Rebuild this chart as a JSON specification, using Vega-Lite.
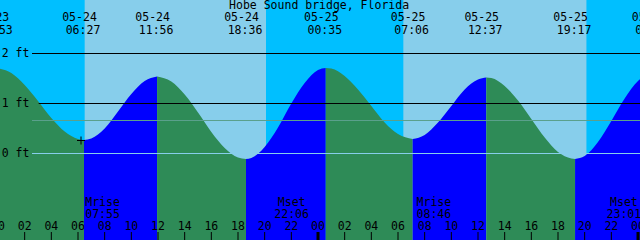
{
  "$schema": "https://vega.github.io/schema/vega-lite/v6.json",
  "width": 640,
  "height": 240,
  "padding": 0,
  "autosize": {"type": "none"},
  "background": "#00bfff",
  "config": {"view": {"stroke": null}, "font": "DejaVu Sans Mono", "text": {"font": "DejaVu Sans Mono", "fontSize": 11.5}},
  "datasets": {
    "sky": [
      {"start": -1, "end": 6.5, "light": "night"},
      {"start": 6.5, "end": 20.1, "light": "day"},
      {"start": 20.1, "end": 30.4, "light": "night"},
      {"start": 30.4, "end": 44.15, "light": "day"},
      {"start": 44.15, "end": 50, "light": "night"}
    ],
    "tide": [
      {"seg": "A", "phase": "ebb", "h": -0.12, "ft": 1.71},
      {"seg": "A", "phase": "ebb", "h": 1, "ft": 1.61},
      {"seg": "A", "phase": "ebb", "h": 2, "ft": 1.37},
      {"seg": "A", "phase": "ebb", "h": 3, "ft": 1.05},
      {"seg": "A", "phase": "ebb", "h": 4, "ft": 0.71},
      {"seg": "A", "phase": "ebb", "h": 5, "ft": 0.44},
      {"seg": "A", "phase": "ebb", "h": 6, "ft": 0.29},
      {"seg": "A", "phase": "ebb", "h": 6.45, "ft": 0.27},
      {"seg": "B", "phase": "flood", "h": 6.45, "ft": 0.27},
      {"seg": "B", "phase": "flood", "h": 7, "ft": 0.30},
      {"seg": "B", "phase": "flood", "h": 8, "ft": 0.50},
      {"seg": "B", "phase": "flood", "h": 9, "ft": 0.84},
      {"seg": "B", "phase": "flood", "h": 10, "ft": 1.19},
      {"seg": "B", "phase": "flood", "h": 11, "ft": 1.45},
      {"seg": "B", "phase": "flood", "h": 11.93, "ft": 1.54},
      {"seg": "C", "phase": "ebb", "h": 11.93, "ft": 1.54},
      {"seg": "C", "phase": "ebb", "h": 13, "ft": 1.44},
      {"seg": "C", "phase": "ebb", "h": 14, "ft": 1.18},
      {"seg": "C", "phase": "ebb", "h": 15, "ft": 0.82},
      {"seg": "C", "phase": "ebb", "h": 16, "ft": 0.43},
      {"seg": "C", "phase": "ebb", "h": 17, "ft": 0.11},
      {"seg": "C", "phase": "ebb", "h": 18, "ft": -0.08},
      {"seg": "C", "phase": "ebb", "h": 18.6, "ft": -0.11},
      {"seg": "D", "phase": "flood", "h": 18.6, "ft": -0.11},
      {"seg": "D", "phase": "flood", "h": 19, "ft": -0.09},
      {"seg": "D", "phase": "flood", "h": 20, "ft": 0.13},
      {"seg": "D", "phase": "flood", "h": 21, "ft": 0.52},
      {"seg": "D", "phase": "flood", "h": 22, "ft": 1.00},
      {"seg": "D", "phase": "flood", "h": 23, "ft": 1.41},
      {"seg": "D", "phase": "flood", "h": 24, "ft": 1.67},
      {"seg": "D", "phase": "flood", "h": 24.58, "ft": 1.71},
      {"seg": "E", "phase": "ebb", "h": 24.58, "ft": 1.71},
      {"seg": "E", "phase": "ebb", "h": 25, "ft": 1.70},
      {"seg": "E", "phase": "ebb", "h": 26, "ft": 1.55},
      {"seg": "E", "phase": "ebb", "h": 27, "ft": 1.28},
      {"seg": "E", "phase": "ebb", "h": 28, "ft": 0.95},
      {"seg": "E", "phase": "ebb", "h": 29, "ft": 0.62},
      {"seg": "E", "phase": "ebb", "h": 30, "ft": 0.39},
      {"seg": "E", "phase": "ebb", "h": 31.1, "ft": 0.29},
      {"seg": "F", "phase": "flood", "h": 31.1, "ft": 0.29},
      {"seg": "F", "phase": "flood", "h": 32, "ft": 0.37},
      {"seg": "F", "phase": "flood", "h": 33, "ft": 0.62},
      {"seg": "F", "phase": "flood", "h": 34, "ft": 0.95},
      {"seg": "F", "phase": "flood", "h": 35, "ft": 1.28},
      {"seg": "F", "phase": "flood", "h": 36, "ft": 1.48},
      {"seg": "F", "phase": "flood", "h": 36.62, "ft": 1.52},
      {"seg": "G", "phase": "ebb", "h": 36.62, "ft": 1.52},
      {"seg": "G", "phase": "ebb", "h": 37, "ft": 1.51},
      {"seg": "G", "phase": "ebb", "h": 38, "ft": 1.35},
      {"seg": "G", "phase": "ebb", "h": 39, "ft": 1.06},
      {"seg": "G", "phase": "ebb", "h": 40, "ft": 0.69},
      {"seg": "G", "phase": "ebb", "h": 41, "ft": 0.32},
      {"seg": "G", "phase": "ebb", "h": 42, "ft": 0.03},
      {"seg": "G", "phase": "ebb", "h": 43, "ft": -0.10},
      {"seg": "G", "phase": "ebb", "h": 43.28, "ft": -0.11},
      {"seg": "H", "phase": "flood", "h": 43.28, "ft": -0.11},
      {"seg": "H", "phase": "flood", "h": 44, "ft": -0.05},
      {"seg": "H", "phase": "flood", "h": 45, "ft": 0.23},
      {"seg": "H", "phase": "flood", "h": 46, "ft": 0.65},
      {"seg": "H", "phase": "flood", "h": 47, "ft": 1.10},
      {"seg": "H", "phase": "flood", "h": 48, "ft": 1.45},
      {"seg": "H", "phase": "flood", "h": 48.5, "ft": 1.55}
    ],
    "levels": [
      {"level": 2, "label": "2 ft", "start": 2.55, "kind": "ft"},
      {"level": 1, "label": "1 ft", "start": 3.05, "kind": "ft"},
      {"level": 0, "label": "0 ft", "start": 2.55, "kind": "datum"},
      {"level": 0.66, "label": "", "start": 2.55, "kind": "mean"}
    ],
    "extremes": [
      {"h": -0.117, "date": "05-23", "time": "23:53"},
      {"h": 6.45, "date": "05-24", "time": "06:27"},
      {"h": 11.933, "date": "05-24", "time": "11:56"},
      {"h": 18.6, "date": "05-24", "time": "18:36"},
      {"h": 24.583, "date": "05-25", "time": "00:35"},
      {"h": 31.1, "date": "05-25", "time": "07:06"},
      {"h": 36.617, "date": "05-25", "time": "12:37"},
      {"h": 43.283, "date": "05-25", "time": "19:17"},
      {"h": 49.17, "date": "05-26", "time": "01:10"}
    ],
    "moon": [
      {"h": 7.917, "event": "Mrise", "time": "07:55"},
      {"h": 22.1, "event": "Mset", "time": "22:06"},
      {"h": 32.767, "event": "Mrise", "time": "08:46"},
      {"h": 47.017, "event": "Mset", "time": "23:01"}
    ],
    "hours": [
      {"h": 0, "hh": "00"}, {"h": 2, "hh": "02"}, {"h": 4, "hh": "04"}, {"h": 6, "hh": "06"},
      {"h": 8, "hh": "08"}, {"h": 10, "hh": "10"}, {"h": 12, "hh": "12"}, {"h": 14, "hh": "14"},
      {"h": 16, "hh": "16"}, {"h": 18, "hh": "18"}, {"h": 20, "hh": "20"}, {"h": 22, "hh": "22"},
      {"h": 24, "hh": "00"}, {"h": 26, "hh": "02"}, {"h": 28, "hh": "04"}, {"h": 30, "hh": "06"},
      {"h": 32, "hh": "08"}, {"h": 34, "hh": "10"}, {"h": 36, "hh": "12"}, {"h": 38, "hh": "14"},
      {"h": 40, "hh": "16"}, {"h": 42, "hh": "18"}, {"h": 44, "hh": "20"}, {"h": 46, "hh": "22"},
      {"h": 48, "hh": "00"}
    ],
    "now": [{"h": 6.225, "ft": 0.26}],
    "title": [{"text": "Hobe Sound bridge, Florida"}]
  },
  "layer": [
    {
      "data": {"name": "sky"},
      "mark": {"type": "rect", "clip": true},
      "encoding": {
        "x": {"field": "start", "type": "quantitative", "scale": {"domain": [0.15, 48.15], "nice": false, "zero": false}, "axis": null},
        "x2": {"field": "end"},
        "color": {"field": "light", "type": "nominal", "scale": {"domain": ["night", "day"], "range": ["#00bfff", "#87ceeb"]}, "legend": null}
      }
    },
    {
      "data": {"name": "tide"},
      "mark": {"type": "area", "interpolate": "monotone", "clip": true, "opacity": 1},
      "encoding": {
        "x": {"field": "h", "type": "quantitative", "scale": {"domain": [0.15, 48.15], "nice": false, "zero": false}, "axis": null},
        "y": {"field": "ft", "type": "quantitative", "scale": {"domain": [-1.73, 3.07], "nice": false, "zero": false}, "axis": null},
        "y2": {"datum": -1.8},
        "color": {"field": "phase", "type": "nominal", "scale": {"domain": ["ebb", "flood"], "range": ["#2e8b57", "#0000ff"]}, "legend": null},
        "detail": {"field": "seg", "type": "nominal"}
      }
    },
    {
      "data": {"name": "levels"},
      "mark": {"type": "rule", "strokeWidth": 1, "clip": true},
      "encoding": {
        "x": {"field": "start", "type": "quantitative"},
        "x2": {"datum": 49},
        "y": {"field": "level", "type": "quantitative"},
        "color": {"field": "kind", "type": "nominal", "scale": {"domain": ["ft", "datum", "mean"], "range": ["#000000", "#87ceeb", "#5aa08c"]}, "legend": null}
      }
    },
    {
      "data": {"name": "levels"},
      "transform": [{"filter": "datum.label != ''"}],
      "mark": {"type": "text", "align": "left", "baseline": "alphabetic", "dy": 3.5, "fill": "#000000"},
      "encoding": {
        "x": {"datum": 0.28},
        "y": {"field": "level", "type": "quantitative"},
        "text": {"field": "label"}
      }
    },
    {
      "data": {"name": "hours"},
      "transform": [{"filter": "datum.h % 24 != 0"}],
      "mark": {"type": "rule", "strokeWidth": 1, "color": "#000000", "clip": true},
      "encoding": {
        "x": {"field": "h", "type": "quantitative"},
        "y": {"datum": -1.57},
        "y2": {"datum": -1.9}
      }
    },
    {
      "data": {"name": "hours"},
      "transform": [{"filter": "datum.h % 24 == 0"}],
      "mark": {"type": "rule", "strokeWidth": 3, "color": "#000000", "clip": true},
      "encoding": {
        "x": {"field": "h", "type": "quantitative"},
        "y": {"datum": -1.57},
        "y2": {"datum": -1.9}
      }
    },
    {
      "data": {"name": "hours"},
      "mark": {"type": "text", "align": "center", "baseline": "alphabetic", "fill": "#000000", "clip": true},
      "encoding": {
        "x": {"field": "h", "type": "quantitative"},
        "y": {"datum": -1.53},
        "text": {"field": "hh"}
      }
    },
    {
      "data": {"name": "extremes"},
      "mark": {"type": "text", "align": "center", "baseline": "alphabetic", "dx": -4.5, "fill": "#000000", "clip": true},
      "encoding": {
        "x": {"field": "h", "type": "quantitative"},
        "y": {"datum": 2.655},
        "text": {"field": "date"}
      }
    },
    {
      "data": {"name": "extremes"},
      "mark": {"type": "text", "align": "center", "baseline": "alphabetic", "dx": -1, "fill": "#000000", "clip": true},
      "encoding": {
        "x": {"field": "h", "type": "quantitative"},
        "y": {"datum": 2.39},
        "text": {"field": "time"}
      }
    },
    {
      "data": {"name": "moon"},
      "mark": {"type": "text", "align": "center", "baseline": "alphabetic", "dx": -1, "fill": "#000000", "clip": true},
      "encoding": {
        "x": {"field": "h", "type": "quantitative"},
        "y": {"datum": -1.056},
        "text": {"field": "event"}
      }
    },
    {
      "data": {"name": "moon"},
      "mark": {"type": "text", "align": "center", "baseline": "alphabetic", "dx": -1, "fill": "#000000", "clip": true},
      "encoding": {
        "x": {"field": "h", "type": "quantitative"},
        "y": {"datum": -1.284},
        "text": {"field": "time"}
      }
    },
    {
      "data": {"name": "title"},
      "mark": {"type": "text", "align": "center", "baseline": "alphabetic", "fill": "#000000"},
      "encoding": {
        "x": {"datum": 24.08},
        "y": {"datum": 2.89},
        "text": {"field": "text"}
      }
    },
    {
      "data": {"name": "now"},
      "mark": {"type": "point", "shape": "M-1,0H1M0,-1V1", "filled": false, "stroke": "#000000", "strokeWidth": 1, "size": 64, "opacity": 1},
      "encoding": {
        "x": {"field": "h", "type": "quantitative"},
        "y": {"field": "ft", "type": "quantitative"}
      }
    }
  ],
  "resolve": {"scale": {"color": "independent"}}
}
